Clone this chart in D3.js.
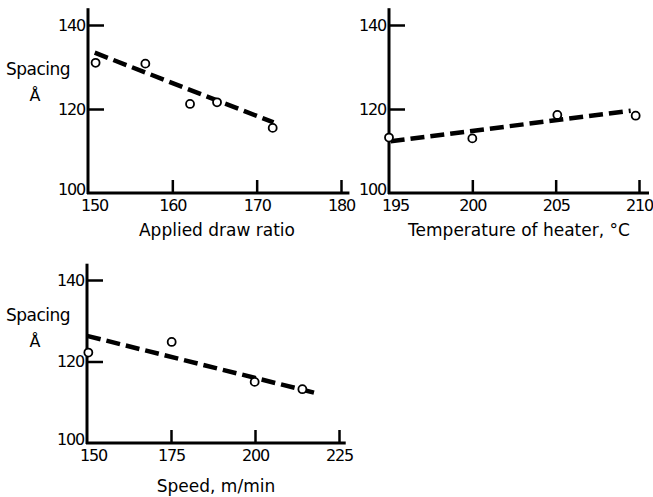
<!DOCTYPE html>
<html><head><meta charset="utf-8">
<script src="https://cdn.jsdelivr.net/npm/d3@7"></script>
<style>
body{margin:0;background:#fff;}
svg{display:block;}
text{font-family:"DejaVu Sans",sans-serif;fill:#000;}
</style></head>
<body>
<script>
// ---- data ----
const yTicks = [100, 120, 140];

const drawRatioTicks = [150, 160, 170, 180];
const drawRatioX = [150.9, 156.8, 162.1, 165.3, 171.9];
const drawRatioY = [131.0, 130.8, 121.2, 121.6, 115.5];
const drawRatioFitX = [150.8, 172.0];
const drawRatioFitY = [133.4, 116.8];

const heaterTicks = [195, 200, 205, 210];
const heaterX = [195.0, 200.0, 205.1, 209.8];
const heaterY = [113.2, 113.0, 118.6, 118.4];
const heaterFitX = [195.1, 209.5];
const heaterFitY = [112.3, 119.6];

const speedTicks = [150, 175, 200, 225];
const speedX = [150.4, 175.2, 199.9, 214.1];
const speedY = [122.2, 124.8, 115.0, 113.2];
const speedFitX = [150.0, 218.3];
const speedFitY = [126.3, 112.2];

const panels = [
  {ticks: drawRatioTicks, xs: drawRatioX, ys: drawRatioY, fx: drawRatioFitX, fy: drawRatioFitY,
   xDom: [150, 180], xEnd: 181, xr: [88, 341], yr: [193, 25], title: "Applied draw ratio", titleX: 217, titleY: 236, spacing: true, spY: 75},
  {ticks: heaterTicks, xs: heaterX, ys: heaterY, fx: heaterFitX, fy: heaterFitY,
   xDom: [195, 210], xEnd: 210.6, xr: [389, 639], yr: [193, 25], title: "Temperature of heater, \u00B0C", titleX: 519, titleY: 236, spacing: false},
  {ticks: speedTicks, xs: speedX, ys: speedY, fx: speedFitX, fy: speedFitY,
   xDom: [150, 225], xEnd: 227, xr: [87, 339], yr: [443, 280], title: "Speed, m/min", titleX: 216, titleY: 492, spacing: true, spY: 321}
];

const svg = d3.select("body").append("svg").attr("width", 653).attr("height", 497);

panels.forEach(p => {
  const x = d3.scaleLinear().domain(p.xDom).range(p.xr);
  const y = d3.scaleLinear().domain([100, 140]).range(p.yr);
  const g = svg.append("g");

  // axis lines
  g.append("line").attr("x1", x(p.xDom[0])).attr("x2", x(p.xDom[0]))
    .attr("y1", y(100) + 1).attr("y2", y(144)).attr("stroke", "#000").attr("stroke-width", 3);
  g.append("line").attr("x1", x(p.xDom[0]) - 1).attr("x2", x(p.xEnd))
    .attr("y1", y(100)).attr("y2", y(100)).attr("stroke", "#000").attr("stroke-width", 3);

  // y axis
  const ya = g.append("g").attr("transform", `translate(${x(p.xDom[0])},0)`)
    .call(d3.axisLeft(y).tickValues(yTicks).tickSizeInner(-16).tickSizeOuter(0).tickPadding(3));
  ya.select(".domain").remove();
  ya.selectAll(".tick line").attr("stroke", "#000").attr("stroke-width", 2.5);
  ya.selectAll(".tick text").attr("font-size", 16).attr("font-family", "DejaVu Sans").attr("letter-spacing", -1.2).attr("fill", "#000");
  const y100 = ya.selectAll(".tick").filter(d => d === 100);
  y100.select("line").remove();
  y100.select("text").attr("dy", "0.1em");

  // x axis
  const xa = g.append("g").attr("transform", `translate(0,${y(100)})`)
    .call(d3.axisBottom(x).tickValues(p.ticks).tickSizeInner(-13).tickSizeOuter(0).tickPadding(7));
  xa.select(".domain").remove();
  xa.selectAll(".tick line").attr("stroke", "#000").attr("stroke-width", 2.5);
  xa.selectAll(".tick text").attr("font-size", 16).attr("font-family", "DejaVu Sans").attr("letter-spacing", -1.2).attr("fill", "#000");
  const x0 = xa.selectAll(".tick").filter((d, i) => i === 0);
  x0.select("line").remove();
  x0.select("text").attr("dx", 6);

  // fit line
  const line = d3.line().x(d => x(d[0])).y(d => y(d[1]));
  g.append("path").datum(p.fx.map((v, i) => [v, p.fy[i]]))
    .attr("d", line).attr("fill", "none").attr("stroke", "#000")
    .attr("stroke-width", 4.5).attr("stroke-dasharray", "14,6");

  // points
  g.selectAll("circle.pt").data(p.xs.map((v, i) => [v, p.ys[i]])).enter()
    .append("circle").attr("class", "pt")
    .attr("cx", d => x(d[0])).attr("cy", d => y(d[1])).attr("r", 4)
    .attr("fill", "#fff").attr("stroke", "#000").attr("stroke-width", 1.8);

  // titles
  g.append("text").attr("x", p.titleX).attr("y", p.titleY).attr("text-anchor", "middle")
    .attr("font-size", 17).text(p.title);
  if (p.spacing) {
    g.append("text").attr("x", 6).attr("y", p.spY).attr("font-size", 17).attr("letter-spacing", -0.5).text("Spacing");
    g.append("text").attr("x", 35).attr("y", p.spY + 26).attr("text-anchor", "middle").attr("font-size", 16).text("\u00C5");
  }
});
</script>
</body></html>
